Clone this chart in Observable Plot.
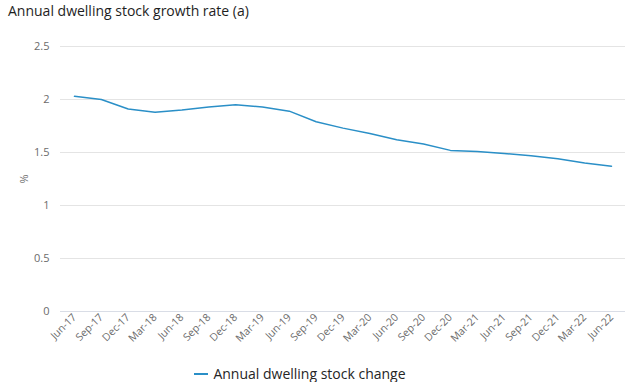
<!DOCTYPE html>
<html>
<head>
<meta charset="utf-8">
<script src="https://cdn.jsdelivr.net/npm/d3@7"></script>
<script src="https://cdn.jsdelivr.net/npm/@observablehq/plot@0.6"></script>
<style>
  body { margin: 0; background: #fff; font-family: "Open Sans", "Noto Sans", sans-serif; }
  #title { font-size: 14px; color: #1e1e1e; padding-left: 8px; height: 24px; line-height: 22px; }
  #legend { font-size: 14px; line-height: 16px; color: #252525; display: flex; justify-content: center; align-items: center; gap: 5px; margin-top: 7px; padding-right: 40px; }
  #legend .sw { width: 14px; height: 2px; background: #2a8fc7; display: inline-block; }
</style>
</head>
<body>
<div id="title">Annual dwelling stock growth rate (a)</div>
<div id="chart"></div>
<div id="legend"><span class="sw"></span><span>Annual dwelling stock change</span></div>
<script>
const periods = ["Jun-17","Sep-17","Dec-17","Mar-18","Jun-18","Sep-18","Dec-18","Mar-19","Jun-19","Sep-19","Dec-19","Mar-20","Jun-20","Sep-20","Dec-20","Mar-21","Jun-21","Sep-21","Dec-21","Mar-22","Jun-22"];
const growth = [2.03,2.00,1.91,1.88,1.90,1.93,1.95,1.93,1.89,1.79,1.73,1.68,1.62,1.58,1.52,1.51,1.49,1.47,1.44,1.40,1.37];
const yTicks = [0,0.5,1,1.5,2,2.5];
const seriesName = "Annual dwelling stock change";

const data = periods.map((p, i) => ({period: p, value: growth[i]}));

const chart = Plot.plot({
  width: 640,
  height: 335,
  marginTop: 22,
  marginBottom: 48,
  marginLeft: 60,
  marginRight: 15,
  style: {fontFamily: "'Open Sans', 'Noto Sans', sans-serif", background: "#fff"},
  x: {type: "point", domain: periods, padding: 0, round: false, range: [74, 611], label: null},
  y: {domain: [0, 2.5], ticks: yTicks, label: "%"},
  marks: [
    Plot.gridY(yTicks, {stroke: "#e4e4e4", strokeOpacity: 1}),
    Plot.ruleY([0], {stroke: "#d9dde6"}),
    Plot.axisY({ticks: yTicks, tickSize: 0, tickPadding: 11, fontSize: 11, color: "#6b6b6b", tickFormat: d => String(d),
      label: "%", labelAnchor: "center", labelArrow: "none", labelOffset: 40}),
    Plot.axisX({tickSize: 0, tickPadding: 4, tickRotate: -45, fontSize: 10.5, color: "#6b6b6b", label: null}),
    Plot.lineY(data, {x: "period", y: "value", stroke: "#2a8fc7", strokeWidth: 1.5})
  ]
});
document.getElementById("chart").appendChild(chart);
</script>
</body>
</html>
